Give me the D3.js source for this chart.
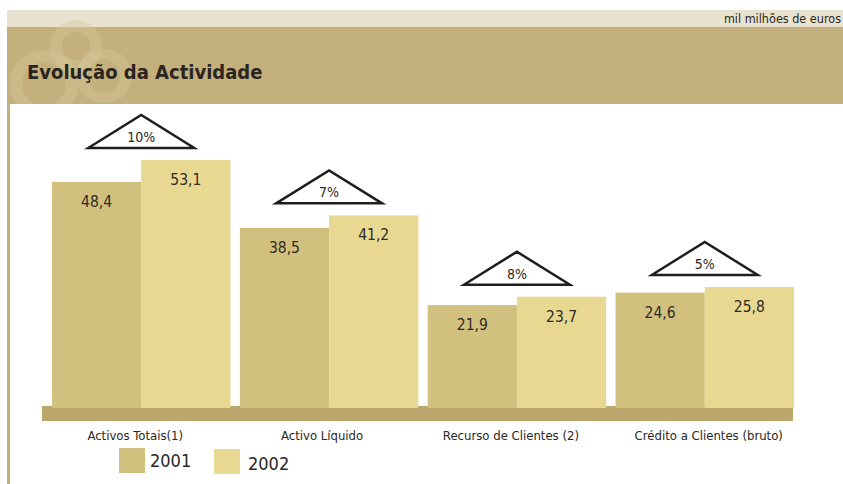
<!DOCTYPE html>
<html><head><meta charset="utf-8">
<script src="https://cdn.jsdelivr.net/npm/d3@7"></script>
<style>
html,body{margin:0;padding:0;background:#fff;}
svg{display:block;font-family:"DejaVu Sans Condensed","DejaVu Sans",sans-serif;}
</style></head>
<body><svg id="c" width="843" height="484"></svg>
<script>
const categories = ["Activos Totais(1)", "Activo Líquido", "Recurso de Clientes (2)", "Crédito a Clientes (bruto)"];
const years = ["2001", "2002"];
const values2001 = [48.4, 38.5, 21.9, 24.6];
const values2002 = [53.1, 41.2, 23.7, 25.8];
const growthLabels = ["10%", "7%", "8%", "5%"];
const title = "Evolução da Actividade";
const unitLabel = "mil milhões de euros";

const colors = {"2001": "#d2c07e", "2002": "#e8d892"};
const svg = d3.select("#c");

// header
svg.append("rect").attr("x", 7).attr("y", 10).attr("width", 836).attr("height", 18).attr("fill", "#e9e2d0");
svg.append("rect").attr("x", 7).attr("y", 27).attr("width", 836).attr("height", 77).attr("fill", "#c4b07c");
// watermark
const clip = svg.append("clipPath").attr("id", "hc");
clip.append("rect").attr("x", 7).attr("y", 10).attr("width", 200).attr("height", 94);
const wm = svg.append("g").attr("clip-path", "url(#hc)").attr("fill", "none").attr("stroke", "#d6c79c").attr("stroke-opacity", 0.4);
wm.append("circle").attr("cx", 76).attr("cy", 46).attr("r", 20).attr("stroke-width", 12);
wm.append("circle").attr("cx", 44).attr("cy", 84).attr("r", 28).attr("stroke-width", 12);
wm.append("circle").attr("cx", 104).attr("cy", 76).attr("r", 22).attr("stroke-width", 11);
svg.append("text").attr("x", 841).attr("y", 23).attr("text-anchor", "end")
  .attr("font-size", 12.5).attr("fill", "#2a2824").text(unitLabel);
svg.append("text").attr("x", 27).attr("y", 79)
  .attr("font-size", 20).attr("font-weight", "bold").attr("fill", "#2a2520").text(title);
// left rule
svg.append("rect").attr("x", 7).attr("y", 104).attr("width", 3).attr("height", 380).attr("fill", "#c4b07c");

// scales
const x = d3.scaleBand().domain(categories).range([52, 794]).paddingInner(0.05).paddingOuter(0);
const xs = d3.scaleBand().domain(years).range([0, x.bandwidth()]);
const y = d3.scaleLinear().domain([0, 53.1]).range([407, 160]);

// base
svg.append("rect").attr("x", 42).attr("y", 406).attr("width", 751).attr("height", 15).attr("fill", "#bba76b");

const data = categories.map((c, i) => ({c, i, v: {"2001": values2001[i], "2002": values2002[i]}}));
const g = svg.selectAll("g.grp").data(data).join("g").attr("class", "grp")
  .attr("transform", d => `translate(${x(d.c)},0)`);
years.forEach(yr => {
  g.append("rect").attr("x", xs(yr)).attr("width", xs.bandwidth())
    .attr("y", d => y(d.v[yr])).attr("height", d => y(0) - y(d.v[yr]) + 1).attr("fill", colors[yr]);
  g.append("text").attr("x", xs(yr) + xs.bandwidth() / 2).attr("y", d => y(d.v[yr]) + 25)
    .attr("text-anchor", "middle").attr("font-size", 15.5).attr("fill", "#2e2b25")
    .text(d => d3.format(".1f")(d.v[yr]).replace(".", ","));
});
// triangles
g.append("path").attr("d", d => {
  const cx = x.bandwidth() / 2, b = y(d.v["2002"]) - 12;
  return `M${cx - 53},${b} L${cx},${b - 33} L${cx + 53},${b} Z`;
}).attr("fill", "#fff").attr("stroke", "#1e1e1e").attr("stroke-width", 2.5).attr("stroke-linejoin", "miter");
g.append("text").attr("x", x.bandwidth() / 2).attr("y", d => y(d.v["2002"]) - 18)
  .attr("text-anchor", "middle").attr("font-size", 14).attr("fill", "#2a2824").text(d => growthLabels[d.i]);
// category labels
const labelShift = [-6, -7, -6, 4];
g.append("text").attr("x", d => x.bandwidth() / 2 + labelShift[d.i]).attr("y", 440)
  .attr("text-anchor", "middle").attr("font-size", 13).attr("fill", "#2a2824").text(d => d.c);

// legend
const legendX = [119, 214];
years.forEach((yr, i) => {
  svg.append("rect").attr("x", legendX[i]).attr("y", 448 + i).attr("width", 26).attr("height", 25).attr("fill", colors[yr]);
  svg.append("text").attr("x", legendX[i] + 31 + i * 3).attr("y", 467 + i * 3)
    .attr("font-size", 18).attr("fill", "#2a2824").text(yr);
});
</script></body></html>
